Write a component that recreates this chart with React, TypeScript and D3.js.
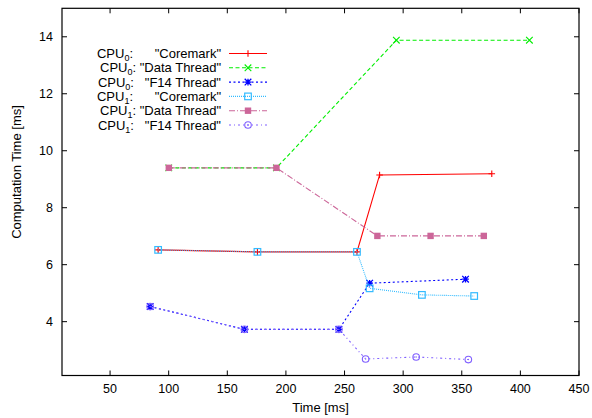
import React from "react";
import * as d3 from "d3";

const W = 592;
const H = 418;

const xTicks = [50, 100, 150, 200, 250, 300, 350, 400, 450];
const yTicks = [4, 6, 8, 10, 12, 14];

const cpu0CoremarkX = [91, 175.7, 260.6, 279.9, 375.6];
const cpu0CoremarkY = [6.52, 6.45, 6.45, 9.15, 9.19];
const cpu0DataX = [100.1, 191.9, 294.2, 407.7];
const cpu0DataY = [9.4, 9.4, 13.88, 13.88];
const cpu0F14X = [84.2, 164.6, 245.2, 271.4, 353.2];
const cpu0F14Y = [4.53, 3.73, 3.73, 5.35, 5.49];
const cpu1CoremarkX = [91, 175.7, 260.6, 271.4, 316, 360.6];
const cpu1CoremarkY = [6.52, 6.45, 6.45, 5.17, 4.94, 4.9];
const cpu1DataX = [100.1, 191.9, 278, 323.4, 368.8];
const cpu1DataY = [9.4, 9.4, 7.01, 7.01, 7.01];
const cpu1F14X = [84.2, 164.6, 245.2, 268, 311.1, 355.6];
const cpu1F14Y = [4.53, 3.73, 3.73, 2.69, 2.76, 2.67];

const cpuIds = ["0", "0", "0", "1", "1", "1"];
const taskNames = ['"Coremark"', '"Data Thread"', '"F14 Thread"', '"Coremark"', '"Data Thread"', '"F14 Thread"'];
const gaps = ["      ", " ", "   ", "      ", " ", "   "];

type Marker = "plus" | "cross" | "star" | "square" | "fsquare" | "circle";

interface Series {
  xs: number[];
  ys: number[];
  color: string;
  dash: string;
  width: number;
  marker: Marker;
}

const series: Series[] = [
  { xs: cpu0CoremarkX, ys: cpu0CoremarkY, color: "#ff0000", dash: "none", width: 1.1, marker: "plus" },
  { xs: cpu0DataX, ys: cpu0DataY, color: "#00ee00", dash: "4,2.5", width: 1.1, marker: "cross" },
  { xs: cpu0F14X, ys: cpu0F14Y, color: "#0000ff", dash: "2,2.5", width: 1.1, marker: "star" },
  { xs: cpu1CoremarkX, ys: cpu1CoremarkY, color: "#33bbff", dash: "1,1", width: 1.1, marker: "square" },
  { xs: cpu1DataX, ys: cpu1DataY, color: "#cc6699", dash: "6,2,1,2", width: 1.1, marker: "fsquare" },
  { xs: cpu1F14X, ys: cpu1F14Y, color: "#8060ff", dash: "2,3,1,3", width: 1.1, marker: "circle" },
];

const margin = { left: 62, right: 13, top: 8.3, bottom: 42.5 };
const x = d3.scaleLinear().domain([9, 450]).range([margin.left, W - margin.right]);
const y = d3.scaleLinear().domain([2.11, 15]).range([H - margin.bottom, margin.top]);

function MarkerShape({ type, cx, cy, color }: { type: Marker; cx: number; cy: number; color: string }) {
  const s = 3.3;
  switch (type) {
    case "plus":
      return <path d={`M${cx - s},${cy}H${cx + s}M${cx},${cy - s}V${cy + s}`} stroke={color} strokeWidth={1.1} fill="none" />;
    case "cross":
      return <path d={`M${cx - s},${cy - s}L${cx + s},${cy + s}M${cx - s},${cy + s}L${cx + s},${cy - s}`} stroke={color} strokeWidth={1.1} fill="none" />;
    case "star":
      return (
        <path
          d={`M${cx - s},${cy}H${cx + s}M${cx},${cy - s}V${cy + s}M${cx - s},${cy - s}L${cx + s},${cy + s}M${cx - s},${cy + s}L${cx + s},${cy - s}`}
          stroke={color}
          strokeWidth={1.3}
          fill="none"
        />
      );
    case "square":
      return <rect x={cx - 3.3} y={cy - 3.3} width={6.6} height={6.6} stroke={color} strokeWidth={1.2} fill="none" />;
    case "fsquare":
      return <rect x={cx - 3.2} y={cy - 3.2} width={6.4} height={6.4} fill={color} stroke="none" />;
    case "circle":
      return (
        <g>
          <circle cx={cx} cy={cy} r={3.3} stroke={color} strokeWidth={1.1} fill="none" />
          <circle cx={cx} cy={cy} r={0.7} fill={color} />
        </g>
      );
  }
}

export default function App() {
  const font = "'Liberation Sans', Arial, Helvetica, sans-serif";
  const x0 = x.range()[0];
  const x1 = x.range()[1];
  const y0 = y.range()[0];
  const y1 = y.range()[1];
  const tickLen = 5;
  const lineGen = d3
    .line<[number, number]>()
    .x((d) => x(d[0]))
    .y((d) => y(d[1]));

  const legendTextX = 221;
  const legendLineX0 = 229;
  const legendLineX1 = 267;
  const legendY0 = 53.5;
  const legendDy = 14.3;

  return (
    <svg width={W} height={H} style={{ position: "absolute", left: 0, top: 0, background: "#fff" }} fontFamily={font}>
      <rect x={0} y={0} width={W} height={H} fill="#fff" />
      {/* ticks */}
      {xTicks.map((t) => (
        <g key={"xt" + t}>
          <line x1={x(t)} x2={x(t)} y1={y0} y2={y0 - tickLen} stroke="#000" strokeWidth={1} />
          <line x1={x(t)} x2={x(t)} y1={y1} y2={y1 + tickLen} stroke="#000" strokeWidth={1} />
          <text x={x(t)} y={y0 + 17} fontSize={12.5} textAnchor="middle" fill="#000">
            {t}
          </text>
        </g>
      ))}
      {yTicks.map((t) => (
        <g key={"yt" + t}>
          <line x1={x0} x2={x0 + tickLen} y1={y(t)} y2={y(t)} stroke="#000" strokeWidth={1} />
          <line x1={x1} x2={x1 - tickLen} y1={y(t)} y2={y(t)} stroke="#000" strokeWidth={1} />
          <text x={x0 - 9} y={y(t) + 4.5} fontSize={12.5} textAnchor="end" fill="#000">
            {t}
          </text>
        </g>
      ))}
      {/* axis labels */}
      <text x={(x0 + x1) / 2} y={H - 6} fontSize={13} textAnchor="middle" fill="#000">
        Time [ms]
      </text>
      <text transform={`translate(21,172) rotate(-90)`} fontSize={13} textAnchor="middle" fill="#000">
        Computation Time [ms]
      </text>
      {/* series */}
      {series.map((s, i) => {
        const pts = s.xs.map((v, j) => [v, s.ys[j]] as [number, number]);
        return (
          <g key={"s" + i}>
            <path d={lineGen(pts) || ""} fill="none" stroke={s.color} strokeWidth={s.width} strokeDasharray={s.dash} />
            {pts.map((p, j) => (
              <MarkerShape key={j} type={s.marker} cx={x(p[0])} cy={y(p[1])} color={s.color} />
            ))}
          </g>
        );
      })}
      {/* legend */}
      {series.map((s, i) => {
        const cy = legendY0 + i * legendDy;
        return (
          <g key={"lg" + i}>
            <text x={legendTextX} y={cy + 4.5} fontSize={13} textAnchor="end" fill="#000" style={{ whiteSpace: "pre" }}>
              <tspan>CPU</tspan>
              <tspan fontSize={9} dy={3}>
                {cpuIds[i]}
              </tspan>
              <tspan dy={-3}>{":" + gaps[i] + taskNames[i]}</tspan>
            </text>
            <line x1={legendLineX0} x2={legendLineX1} y1={cy} y2={cy} stroke={s.color} strokeWidth={s.width} strokeDasharray={s.dash} />
            <MarkerShape type={s.marker} cx={(legendLineX0 + legendLineX1) / 2} cy={cy} color={s.color} />
          </g>
        );
      })}
      {/* border */}
      <rect x={x0} y={y1} width={x1 - x0} height={y0 - y1} fill="none" stroke="#000" strokeWidth={1.2} />
    </svg>
  );
}
